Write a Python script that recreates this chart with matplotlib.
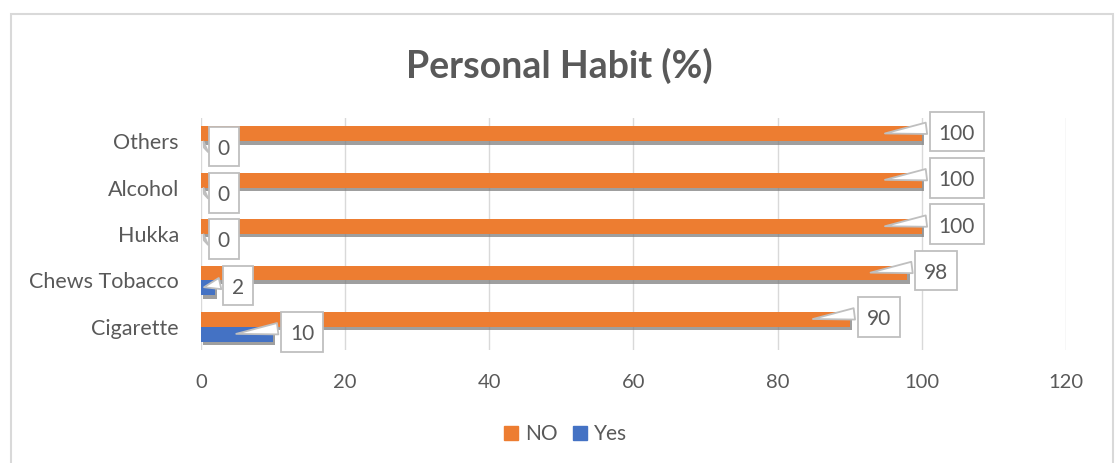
import matplotlib
matplotlib.use('Agg')
import matplotlib.pyplot as plt
import matplotlib.patheffects as pe
from matplotlib.patches import Rectangle, Patch
from matplotlib.path import Path
from matplotlib.transforms import offset_copy
import numpy as np

# Данные диаграммы (снизу вверх, как на оси)
categories = ['Cigarette', 'Chews Tobacco', 'Hukka', 'Alcohol', 'Others']
no_values = [90, 98, 100, 100, 100]
yes_values = [10, 2, 0, 0, 0]
x_ticks = [0, 20, 40, 60, 80, 100, 120]

orange = '#ED7D31'
blue = '#4472C4'
text_gray = '#595959'
grid_gray = '#D9D9D9'

plt.rcParams['font.family'] = ['Lato', 'DejaVu Sans']

fig = plt.figure(figsize=(11.16, 4.63), dpi=100)
ax = fig.add_axes([0.1801, 0.2441, 0.9552 - 0.1801, 0.7451 - 0.2441])

y = np.arange(len(categories))
h = 0.32
shadow = [pe.SimplePatchShadow(offset=(1.5, -2.5), shadow_rgbFace='#7f7f7f', alpha=0.75),
          pe.Normal()]

bars_no = ax.barh(y + h / 2, no_values, height=h, color=orange, zorder=3)
bars_yes = ax.barh(y - h / 2, yes_values, height=h, color=blue, zorder=3)
for b in list(bars_no) + list(bars_yes):
    b.set_path_effects(shadow)

ax.set_xlim(0, 120)
ax.set_ylim(-0.5, len(categories) - 0.5)

# Подписи-выноски: рамка справа от конца столбца, клин ведёт внутрь столбца
fs = 15
pad_x = 0.42
pad_top = 0.58
pad_bottom = 0.36
pad_px = pad_x * fs * 100 / 72
text_tr = offset_copy(ax.transData, fig=fig, x=8 + pad_px, y=0, units='dots')


def callout_box(x0, y0, width, height, mutation_size):
    px = pad_x * mutation_size
    pt = pad_top * mutation_size
    pb = pad_bottom * mutation_size
    verts = [(x0 - px, y0 - pb), (x0 + width + px, y0 - pb),
             (x0 + width + px, y0 + height + pt), (x0 - px, y0 + height + pt),
             (x0 - px, y0 - pb)]
    return Path(verts, closed=True)


def callout(value, ypos):
    tip = max(value - 5.5, 0.05)
    ax.annotate(str(value), xy=(tip, ypos), xytext=(value, ypos),
                textcoords=text_tr, ha='left', va='center',
                fontsize=fs, color=text_gray, zorder=5,
                bbox=dict(boxstyle=callout_box, fc='white', ec='#BFBFBF', lw=1.3),
                arrowprops=dict(arrowstyle='wedge,tail_width=0.55,shrink_factor=0.5',
                                fc='white', ec='#BFBFBF', lw=1.3,
                                relpos=(0.0, 0.85)),
                annotation_clip=False)


for i in range(len(categories)):
    callout(no_values[i], y[i] + h / 2)
    callout(yes_values[i], y[i] - h / 2)

ax.set_xticks(x_ticks)
ax.set_yticks(y)
ax.set_yticklabels(categories)
ax.tick_params(axis='both', length=0, colors=text_gray)
ax.tick_params(axis='x', pad=17, labelsize=14.5)
ax.tick_params(axis='y', pad=16, labelsize=15.5)
ax.grid(axis='x', color=grid_gray, lw=1, zorder=0)
ax.set_axisbelow(True)
for s in ax.spines.values():
    s.set_visible(False)

fig.text(0.5015, 0.857, 'Personal Habit (%)', ha='center', va='center',
         fontsize=27, fontweight='bold', color=text_gray)

handles = [Patch(color=orange), Patch(color=blue)]
fig.legend(handles=handles, labels=['NO', 'Yes'], loc='center',
           bbox_to_anchor=(0.507, 0.062), ncol=2, frameon=False, fontsize=15,
           handlelength=0.65, handleheight=0.65, handletextpad=0.35, columnspacing=0.75,
           labelcolor=text_gray)

# Рамка области диаграммы
fig.patches.append(Rectangle((10.5 / 1116, -0.05), (1113 - 10.5) / 1116, 1.05 - 14 / 463,
                             transform=fig.transFigure, fill=False,
                             ec=grid_gray, lw=1.5))

fig.savefig('out.png', dpi=100)
